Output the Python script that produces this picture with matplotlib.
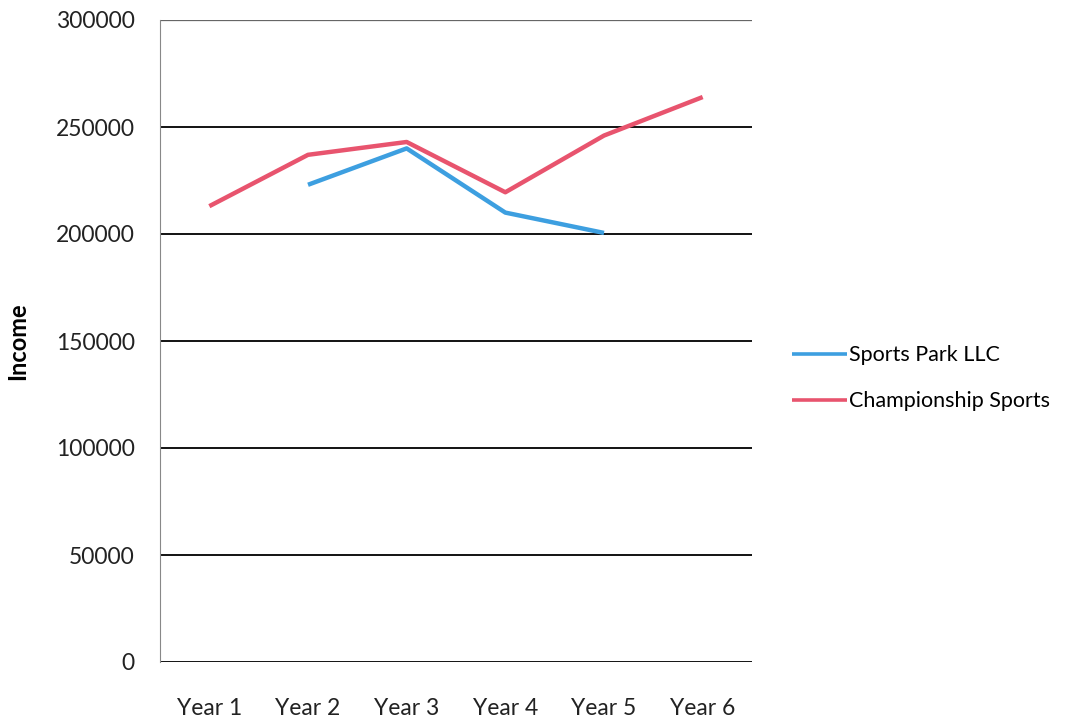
import matplotlib
matplotlib.use("Agg")
import matplotlib.pyplot as plt
import numpy as np

categories = ["Year 1", "Year 2", "Year 3", "Year 4", "Year 5", "Year 6"]
sports_park = [np.nan, 223000, 240000, 210000, 200500, np.nan]
championship = [213000, 237000, 243000, 219500, 246000, 264000]
y_ticks = [0, 50000, 100000, 150000, 200000, 250000, 300000]

plt.rcParams['font.family'] = ['Lato', 'DejaVu Sans']

fig = plt.figure(figsize=(10.79, 7.25), dpi=100)
ax = fig.add_axes([160/1079, 1-662/725, (752-160)/1079, (662-20)/725])

x = np.arange(len(categories))
ax.plot(x, sports_park, color="#3d9fe0", lw=3.2, label="Sports Park LLC", solid_capstyle="butt")
ax.plot(x, championship, color="#e8546e", lw=3.2, label="Championship Sports", solid_capstyle="butt")

ax.set_xlim(-0.5, len(categories) - 0.5)
ax.set_ylim(0, 300000)
ax.set_yticks(y_ticks)
ax.set_yticklabels([str(v) for v in y_ticks])
ax.set_xticks(x)
ax.set_xticklabels(categories)
ax.yaxis.grid(True, color="black", lw=1.3)
gl = ax.get_ygridlines()
gl[-1].set_color("#666666")
gl[-1].set_linewidth(0.9)
ax.set_axisbelow(True)
for s in ["top", "right", "bottom"]:
    ax.spines[s].set_visible(False)
ax.spines["left"].set_color("#888888")
ax.spines["left"].set_linewidth(0.8)
ax.tick_params(axis="both", length=0, labelsize=16.5, colors="#222222")
ax.tick_params(axis="y", pad=18)
ax.tick_params(axis="x", pad=26)
ax.set_ylabel("Income", fontsize=17, fontweight="bold")
ax.yaxis.set_label_coords((29 - 160) / 592, (662 - 341) / 642)

fig.legend(loc="upper left", bbox_to_anchor=(773/1079, 1-326/725), frameon=False,
           fontsize=15.5, handlelength=2.55, handletextpad=0.1, labelspacing=1.2)
for h in fig.legends[0].get_lines():
    h.set_linewidth(2.6)

fig.savefig("out.png", dpi=100)
